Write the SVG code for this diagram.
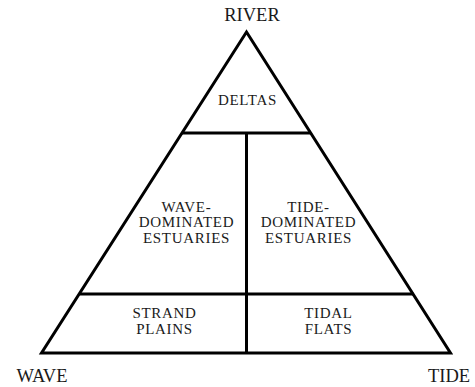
<svg xmlns="http://www.w3.org/2000/svg" width="475" height="387" viewBox="0 0 475 387">
<style>
.ln{stroke:#000;stroke-width:3;fill:none;stroke-linejoin:miter;stroke-linecap:butt}
text{font-family:'Liberation Serif','DejaVu Serif','Times New Roman',serif;fill:#1a1a1a;text-anchor:middle}
.lb{font-size:15px;letter-spacing:0.7px}
.ax{font-size:18.5px}
</style>
<rect width="475" height="387" fill="#fff"/>
<g id="connectors">
<polygon class="ln" points="246.5,32 41.5,353 450.5,353"/>
<line class="ln" x1="182" y1="133" x2="311" y2="133"/>
<line class="ln" x1="79.5" y1="294" x2="413.5" y2="294"/>
<line class="ln" x1="246.5" y1="133" x2="246.5" y2="353"/>
</g>
<g id="river"><text class="ax" x="252" y="21">RIVER</text></g>
<g id="wave"><text class="ax" x="42" y="382">WAVE</text></g>
<g id="tide"><text class="ax" x="449" y="382">TIDE</text></g>
<g id="deltas"><text class="lb" x="247.5" y="105">DELTAS</text></g>
<g id="wave-dominated"><text class="lb" x="186.5" y="212">WAVE-</text><text class="lb" x="186.5" y="227">DOMINATED</text><text class="lb" x="186.5" y="243">ESTUARIES</text></g>
<g id="tide-dominated"><text class="lb" x="308.5" y="212">TIDE-</text><text class="lb" x="308.5" y="227">DOMINATED</text><text class="lb" x="308.5" y="243">ESTUARIES</text></g>
<g id="strand-plains"><text class="lb" x="164.5" y="318">STRAND</text><text class="lb" x="164.5" y="334">PLAINS</text></g>
<g id="tidal-flats"><text class="lb" x="328.5" y="318">TIDAL</text><text class="lb" x="328.5" y="334">FLATS</text></g>
</svg>
